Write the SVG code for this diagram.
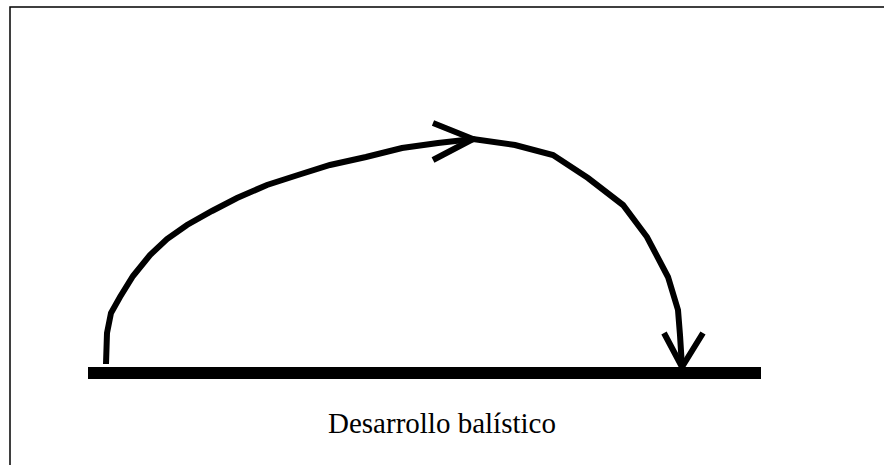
<svg xmlns="http://www.w3.org/2000/svg" width="884" height="465" viewBox="0 0 884 465">
<style>
.ln{fill:none;stroke:#000;stroke-width:6;stroke-linejoin:miter;stroke-linecap:butt}
.lbl{font-family:"Liberation Serif","Times New Roman",serif;font-size:29px;fill:#000}
</style>
<rect x="0" y="0" width="884" height="465" fill="#fff"/>
<rect x="10" y="7" width="900" height="480" fill="none" stroke="#000" stroke-width="1.5"/>
<g id="ground">
<rect x="88" y="367" width="673" height="12" fill="#000"/>
</g>
<g id="connectors">
<polyline class="ln" points="106,364 107,333 111,313 120,297 133,276 150,255 167,239 187,225 212,211 237,198 267,185 298,175 330,165 366,157 402,148 438,143 473,139 515,145 553,155 588,178 623,205 647,237 668,277 678,310 680,335 682,367"/>
<polyline class="ln" points="433,123 473,139 433,160"/>
<polyline class="ln" points="664,333 682,367 703,333"/>
</g>
<g id="label">
<text class="lbl" x="328" y="433">Desarrollo balístico</text>
</g>
</svg>
